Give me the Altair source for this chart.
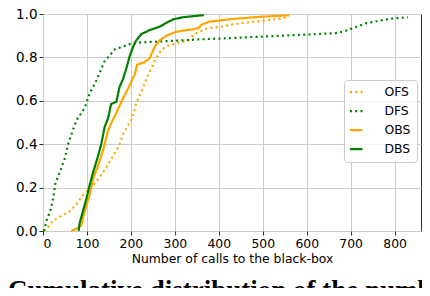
import altair as alt
import pandas as pd

series_names = ["OFS", "DFS", "OBS", "DBS"]
series_colors = ["#FFA500", "#008000", "#FFA500", "#008000"]

ofs_calls = [2, 11, 23, 38, 61, 76, 91, 114, 129, 144, 159, 174, 182, 193, 203, 212, 224, 235, 247, 258, 269, 281, 300, 330, 345, 375, 402, 432, 493, 546, 557]
ofs_cdf = [0.0, 0.018, 0.048, 0.065, 0.092, 0.122, 0.166, 0.21, 0.248, 0.292, 0.344, 0.396, 0.448, 0.485, 0.52, 0.589, 0.641, 0.70, 0.752, 0.797, 0.834, 0.852, 0.863, 0.878, 0.908, 0.935, 0.94, 0.953, 0.967, 0.98, 0.99]

dfs_calls = [2, 8, 17, 23, 28, 38, 49, 57, 65, 76, 95, 106, 118, 129, 140, 152, 163, 186, 205, 243, 303, 356, 493, 540, 600, 667, 686, 709, 734, 768, 789, 830]
dfs_cdf = [0.0, 0.048, 0.095, 0.149, 0.218, 0.27, 0.33, 0.40, 0.448, 0.51, 0.567, 0.634, 0.678, 0.73, 0.782, 0.81, 0.837, 0.853, 0.867, 0.871, 0.877, 0.883, 0.895, 0.90, 0.905, 0.912, 0.92, 0.938, 0.957, 0.97, 0.978, 0.985]

obs_calls = [64, 76, 87, 95, 106, 114, 125, 137, 148, 156, 167, 182, 197, 209, 214, 231, 243, 254, 265, 281, 303, 318, 353, 360, 379, 432, 493, 561]
obs_cdf = [0.0, 0.01, 0.025, 0.092, 0.166, 0.24, 0.30, 0.374, 0.463, 0.50, 0.545, 0.611, 0.67, 0.723, 0.767, 0.777, 0.797, 0.849, 0.878, 0.90, 0.918, 0.923, 0.933, 0.95, 0.965, 0.977, 0.987, 0.994]

dbs_calls = [81, 83, 91, 99, 106, 114, 125, 133, 140, 148, 155, 167, 174, 182, 190, 197, 205, 212, 224, 243, 265, 281, 296, 318, 366]
dbs_cdf = [0.0, 0.033, 0.092, 0.151, 0.21, 0.27, 0.344, 0.404, 0.478, 0.52, 0.585, 0.596, 0.663, 0.70, 0.752, 0.804, 0.849, 0.878, 0.908, 0.926, 0.941, 0.96, 0.975, 0.985, 0.995]

x_ticks = [0, 100, 200, 300, 400, 500, 600, 700, 800]
y_ticks = [0.0, 0.2, 0.4, 0.6, 0.8, 1.0]
x_title = "Number of calls to the black-box"
caption = "Cumulative distribution of the number of calls to the black-box"

rows = []
for name, calls, cdf in [("OFS", ofs_calls, ofs_cdf), ("DFS", dfs_calls, dfs_cdf),
                         ("OBS", obs_calls, obs_cdf), ("DBS", dbs_calls, dbs_cdf)]:
    for i, (c, p) in enumerate(zip(calls, cdf)):
        rows.append({"series": name, "calls": c, "cdf": p, "idx": i})
df = pd.DataFrame(rows)

dot = [2, 3.3]
solid = [1, 0]

lines = alt.Chart(df).mark_line(strokeWidth=2.2, strokeCap="butt").encode(
    x=alt.X("calls:Q", scale=alt.Scale(domain=[0, 860], nice=False, zero=True),
            axis=alt.Axis(values=x_ticks, title=x_title, format="d")),
    y=alt.Y("cdf:Q", scale=alt.Scale(domain=[0, 1], nice=False),
            axis=alt.Axis(values=y_ticks, format=".1f", title=None)),
    color=alt.Color("series:N", scale=alt.Scale(domain=series_names, range=series_colors),
                    legend=alt.Legend(title=None)),
    strokeDash=alt.StrokeDash("series:N", scale=alt.Scale(domain=series_names, range=[dot, dot, solid, solid]),
                              legend=alt.Legend(title=None)),
    order="idx:Q",
)

cap = alt.Chart(pd.DataFrame({"t": [caption]})).mark_text(
    font="Liberation Serif", fontWeight="bold", fontSize=27, align="left", baseline="alphabetic", color="black"
).encode(text="t:N", x=alt.value(-35), y=alt.value(284.8))

chart = alt.layer(lines, cap).properties(
    width=378, height=217,
    autosize=alt.AutoSizeParams(type="none"),
    padding={"left": 35, "top": 6, "right": 1, "bottom": 57},
).configure_view(
    stroke="#333333", strokeWidth=1
).configure_axis(
    grid=True, gridColor="#cccccc", gridWidth=1, domain=False,
    tickColor="#333333", tickSize=4, tickWidth=1,
    labelFont="DejaVu Sans", labelColor="black", titleFont="DejaVu Sans", titleColor="black",
    titleFontWeight="normal",
).configure_axisX(
    labelFontSize=12.4, titleFontSize=12.4, labelPadding=2, titlePadding=3,
).configure_axisY(
    labelFontSize=13.5, labelPadding=2,
).configure_legend(
    orient="none", legendX=301, legendY=66,
    padding=6, fillColor="rgba(255,255,255,0.8)", strokeColor="#cccccc", cornerRadius=3,
    symbolType="M-2,0H2", symbolSize=39, symbolStrokeWidth=2.2, symbolFillColor="transparent",
    symbolOffset=0, labelOffset=22, labelFontSize=12.4, labelFont="DejaVu Sans", labelColor="black",
    rowPadding=6,
)

chart.save("out.html", embed_options={"renderer": "svg", "actions": False})
